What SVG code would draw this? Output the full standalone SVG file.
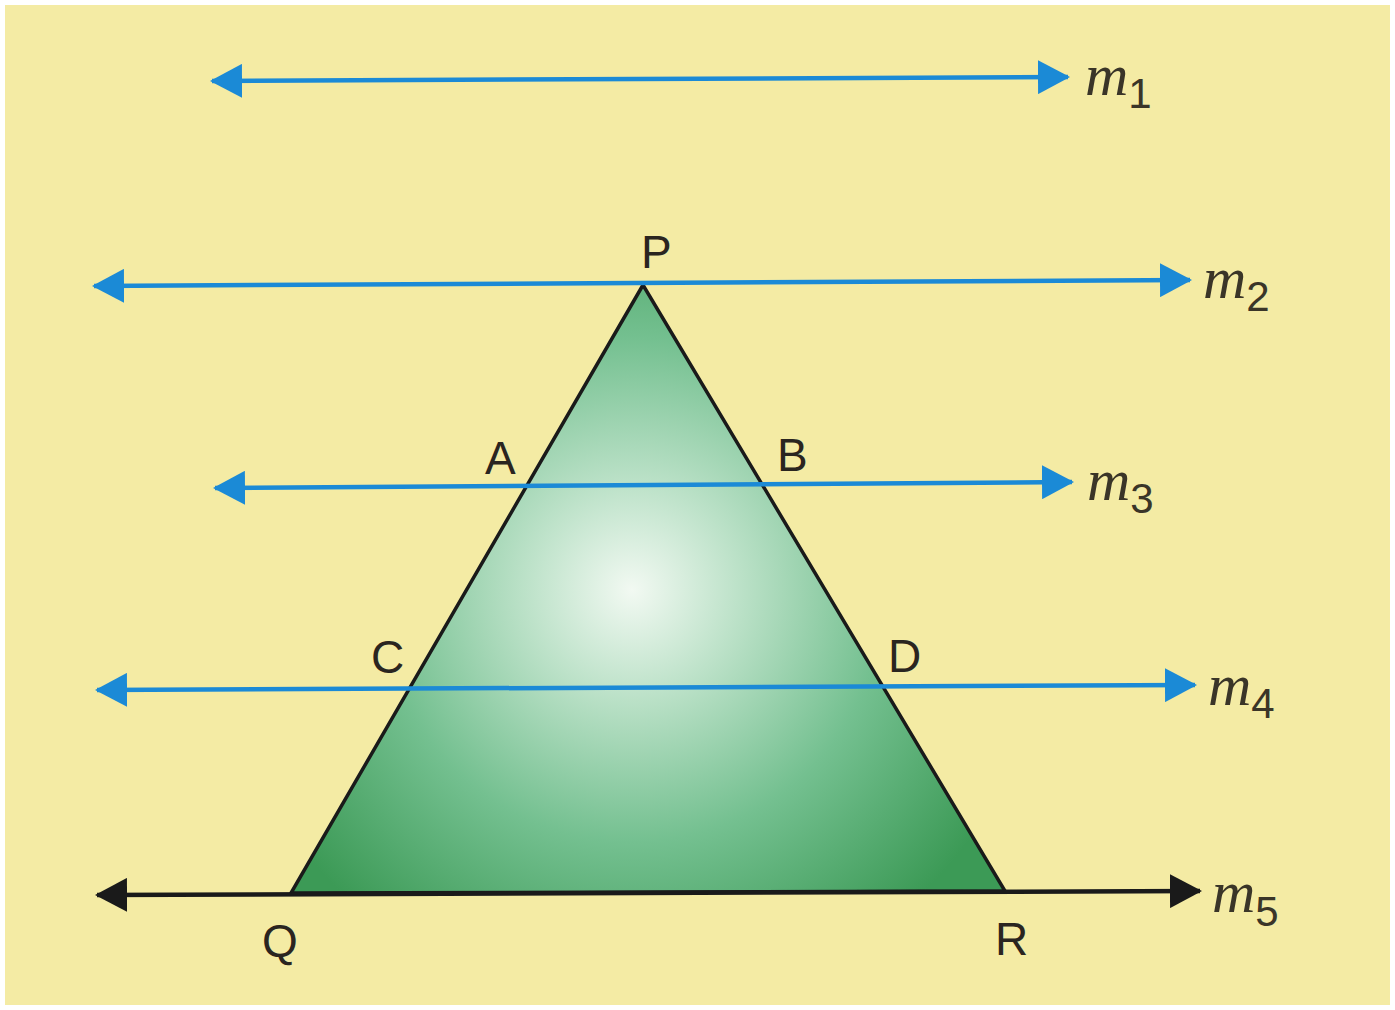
<svg xmlns="http://www.w3.org/2000/svg" width="1395" height="1010" viewBox="0 0 1395 1010">
<style>
.bl{stroke:#1b8ad6;stroke-width:4.5;fill:none}
.bk{stroke:#1a1a1a;stroke-width:4.5;fill:none}
.pt{font-family:"Liberation Sans",Arial,sans-serif;font-size:46px;fill:#2a2520}
.m{font-family:"Liberation Serif","Times New Roman",serif;font-style:italic;font-size:60px;fill:#3a3528}
.sub{font-family:"Liberation Sans",Arial,sans-serif;font-size:42px;fill:#3a3528}
</style>
<defs>
<marker id="ab" viewBox="0 0 32 34" refX="30" refY="17" markerWidth="32" markerHeight="34" markerUnits="userSpaceOnUse" orient="auto-start-reverse"><path d="M0,0 L32,17 L0,34 Z" fill="#1b8ad6"/></marker>
<marker id="ak" viewBox="0 0 32 34" refX="30" refY="17" markerWidth="32" markerHeight="34" markerUnits="userSpaceOnUse" orient="auto-start-reverse"><path d="M0,0 L32,17 L0,34 Z" fill="#1a1a1a"/></marker>
<radialGradient id="g" gradientUnits="userSpaceOnUse" cx="632" cy="590" r="420">
<stop offset="0" stop-color="#f2f9f2"/>
<stop offset="0.25" stop-color="#bde2c9"/>
<stop offset="0.6" stop-color="#74c090"/>
<stop offset="1" stop-color="#3c9a56"/>
</radialGradient>
</defs>
<rect x="2.5" y="2.5" width="1390" height="1005" fill="#f4eba4" stroke="#ffffff" stroke-width="5"/>
<g id="triangle">
<polygon points="643,285 291,893 1005,891" fill="url(#g)" stroke="#1a1a1a" stroke-width="3.5" stroke-linejoin="miter"/>
</g>
<g id="connectors">
<line class="bl" x1="212" y1="81" x2="1068" y2="77" marker-start="url(#ab)" marker-end="url(#ab)"/>
<line class="bl" x1="94" y1="286" x2="1190" y2="280" marker-start="url(#ab)" marker-end="url(#ab)"/>
<line class="bl" x1="215" y1="488" x2="1072" y2="482" marker-start="url(#ab)" marker-end="url(#ab)"/>
<line class="bl" x1="97" y1="690" x2="1195" y2="685" marker-start="url(#ab)" marker-end="url(#ab)"/>
<line class="bk" x1="97" y1="895" x2="1200" y2="891" marker-start="url(#ak)" marker-end="url(#ak)"/>
</g>
<g id="labels">
<text class="pt" x="641" y="268">P</text>
<text class="pt" x="485" y="474">A</text>
<text class="pt" x="777" y="471">B</text>
<text class="pt" x="371" y="673">C</text>
<text class="pt" x="888" y="672">D</text>
<text class="pt" x="262" y="957">Q</text>
<text class="pt" x="995" y="955">R</text>
<text x="1085" y="95"><tspan class="m">m</tspan><tspan class="sub" dy="13">1</tspan></text>
<text x="1203" y="298"><tspan class="m">m</tspan><tspan class="sub" dy="13">2</tspan></text>
<text x="1087" y="500"><tspan class="m">m</tspan><tspan class="sub" dy="13">3</tspan></text>
<text x="1208" y="705"><tspan class="m">m</tspan><tspan class="sub" dy="13">4</tspan></text>
<text x="1212" y="912"><tspan class="m">m</tspan><tspan class="sub" dy="14">5</tspan></text>
</g>
</svg>
